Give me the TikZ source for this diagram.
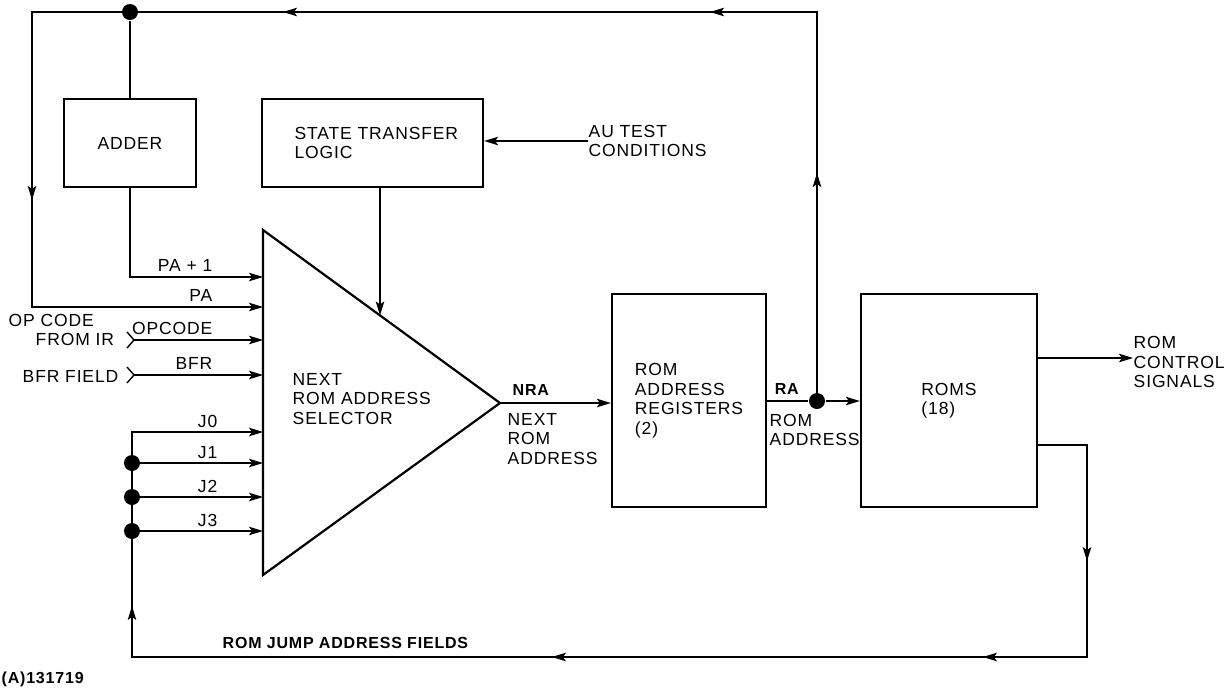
\documentclass[tikz,border=0pt]{standalone}
\usepackage{fontspec}
\setmainfont{Liberation Sans}[LetterSpace=5]
\usetikzlibrary{arrows.meta,positioning,calc,decorations.markings}

\begin{document}
\begin{tikzpicture}[x=1pt,y=-1pt,font=\fontsize{17.5}{19.5}\selectfont,
  >={Stealth[length=14pt,width=8.5pt,inset=3pt]},line width=1.4pt,
  box/.style={draw,line width=2.2pt,inner sep=0pt},
  dot/.style={circle,fill,inner sep=0pt,minimum size=16pt},
  lbl/.style={inner sep=0pt,align=left},
  bold/.style={lbl,font=\fontsize{16}{19}\selectfont\bfseries},
  midtip/.style={postaction={decorate,decoration={markings,mark=at position #1 with {\arrow{>}}}}}]
\useasboundingbox (0,0) rectangle (1231,689);
% blocks
\node[box,minimum width=132pt,minimum height=88pt] (adder) at (130,143) {ADDER};
\node[box,minimum width=221pt,minimum height=88pt] (stl) at (372.5,143) {};
\node[lbl,anchor=west] (stltext) at ([xshift=33pt]stl.west) {STATE TRANSFER\\LOGIC};
\node[box,minimum width=154pt,minimum height=213pt,align=left] (rar) at (689,400.5) {ROM\\ADDRESS\\REGISTERS\\(2)};
\node[box,minimum width=176pt,minimum height=213pt,align=left] (roms) at (949,400.5) {ROMS\\(18)};
% selector
\coordinate (ta) at (263,230);
\coordinate (apex) at (500,403);
\coordinate (tb) at (263,575);
\draw[line width=2.2pt,line join=miter] (ta) -- (apex) -- (tb) -- cycle;
\node[lbl,anchor=west] (sel) at (292,399) {NEXT\\ROM ADDRESS\\SELECTOR};
\foreach \n/\y in {pa1/277,pa/307,op/340,bfr/375,j0/432,j1/463,j2/497,j3/531}
  \coordinate (in-\n) at (263,\y);
% feedback of PA
\node[dot] (radot) at (817,401) {};
\node[dot] (topdot) at (130,12) {};
\coordinate (tr) at (817,12);
\coordinate (tl) at (32,12);
\draw[->,midtip=228pt,midtip=496pt,midtip=923pt,midtip=1362pt] (radot.center) -- (tr) -- (tl) |- (in-pa);
\draw (topdot) -- (adder.north);
\draw[->] (adder.south) |- (in-pa1);
% state transfer
\coordinate (stlin) at ($(ta)!0.4937!(apex)$);
\draw[->] (stlin |- stl.south) -- (stlin);
\node[lbl,anchor=west] (autest) at (588,141) {AU TEST\\CONDITIONS};
\draw[->] (autest.west) -- (autest.west -| stl.east);
% external inputs
\coordinate (src-op) at (134,340);
\coordinate (src-bfr) at (134,375);
\foreach \s in {op,bfr}{
  \draw ([shift={(-7,-8)}]src-\s) -- (src-\s) -- ([shift={(-7,8)}]src-\s);
  \draw[->] (src-\s) -- (in-\s);}
\node[lbl,anchor=west] (opsrc) at (8,330) {OP CODE\\\hspace*{27pt}FROM IR};
\node[lbl,anchor=east] (bfrsrc) at (119,376) {BFR FIELD};
\foreach \n/\t in {pa1/PA + 1,pa/PA,op/OPCODE,bfr/BFR}
  \node[lbl,anchor=south east] at ([shift={(-50,-5)}]in-\n) {\t};
\foreach \n/\t in {j0/J0,j1/J1,j2/J2,j3/J3}
  \node[lbl,anchor=south east] at ([shift={(-45,-4)}]in-\n) {\t};
% jump address bus
\foreach \n/\y in {j1/463,j2/497,j3/531}{
  \node[dot] (d-\n) at (132,\y) {};
  \draw[->] (d-\n.center) -- (in-\n);}
\coordinate (rbot) at (1087,657);
\coordinate (jcorner) at (132,657);
\draw[->,midtip=165pt,midtip=365pt,midtip=796pt,midtip=1267pt] ([yshift=-44.5pt]roms.east) -| (rbot) -- (jcorner) |- (in-j0);
\node[bold,anchor=south west] (jumplbl) at (222,649) {ROM JUMP ADDRESS FIELDS};
% addresses
\draw[->] (apex) -- (apex -| rar.west);
\node[bold,anchor=south west] (nra) at ([shift={(12,-7)}]apex) {NRA};
\node[lbl,anchor=west] (nratext) at (507,439) {NEXT\\ROM\\ADDRESS};
\draw (rar.east |- radot) -- (radot);
\draw[->] (radot) -- (radot -| roms.west);
\node[bold,anchor=south west] (ra) at ([shift={(7,-6)}]rar.east |- radot) {RA};
\node[lbl,anchor=west] (ratext) at (769,430) {ROM\\ADDRESS};
% outputs
\node[lbl,anchor=west] (ctrl) at (1133,362) {ROM\\CONTROL\\SIGNALS};
\draw[->] ([yshift=42.5pt]roms.east) -- ([yshift=42.5pt]roms.east -| ctrl.west);
\node[bold,anchor=south west] (figno) at (1,688) {(A)131719};
\end{tikzpicture}
\end{document}
